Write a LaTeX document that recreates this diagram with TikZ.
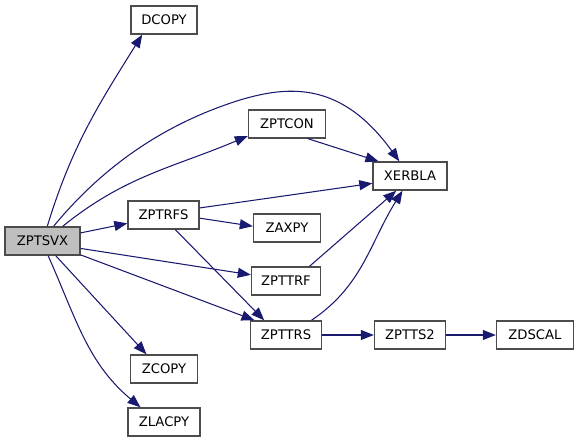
\documentclass[tikz,border=0pt]{standalone}
\usepackage{fontspec}
\setmainfont{DejaVu Sans}
\usetikzlibrary{arrows.meta,positioning}
\definecolor{callblue}{RGB}{25,25,112}
\definecolor{rootgray}{RGB}{191,191,191}
\tikzset{
  >={Triangle[length=2.6mm,width=2mm]},
  fn/.style={draw=black!70,fill=#1,line width=0.8pt,minimum height=5.6mm,
    inner sep=0pt,font=\fontsize{7.5}{9}\selectfont},
  fn/.default=white,
  call/.style={->,draw=callblue,fill=none,line width=0.6pt},
}

\begin{document}
\begin{tikzpicture}[x=0.02cm,y=-0.02cm]
    \useasboundingbox (0,0) rectangle (579,443);
    \node[fn=rootgray,minimum width=15mm] (zptsvx) at (42.5,241) {ZPTSVX};
    \node[fn,minimum width=13.2mm] (dcopy) at (164,20) {DCOPY};
    \node[fn,minimum width=15.4mm] (zptcon) at (287,124) {ZPTCON};
    \node[fn,minimum width=14.8mm] (xerbla) at (410,176) {XERBLA};
    \node[fn,minimum width=14.2mm] (zptrfs) at (163.5,215) {ZPTRFS};
    \node[fn,minimum width=13.4mm] (zaxpy) at (287,228) {ZAXPY};
    \node[fn,minimum width=13.8mm] (zpttrf) at (286,281) {ZPTTRF};
    \node[fn,minimum width=14.2mm] (zpttrs) at (286,335) {ZPTTRS};
    \node[fn,minimum width=14.2mm] (zptts2) at (410,335) {ZPTTS2};
    \node[fn,minimum width=15.4mm] (zdscal) at (535,335) {ZDSCAL};
    \node[fn,minimum width=13.4mm] (zcopy) at (164,369) {ZCOPY};
    \node[fn,minimum width=14.4mm] (zlacpy) at (164,422) {ZLACPY};
    % calls from the driver
    \draw[call] (zptsvx.72) to[out=73,in=-122] (dcopy.-146);
    \draw[call] (zptsvx.53) .. controls (100,170) and (160,125) .. (240,100)
      .. controls (290,85) and (342,82) .. (xerbla.126);
    \draw[call] (zptsvx.36) to[out=39,in=-157] (zptcon.-163);
    \draw[call] (zptsvx.12) -- (zptrfs.-167);
    \draw[call] (zptsvx.-11) -- (zpttrf.170);
    \draw[call] (zptsvx.-20) -- (zpttrs.155);
    \draw[call] (zptsvx.-48) -- (zcopy.140);
    \draw[call] (zptsvx.-69) to[out=-66,in=140] (zlacpy.148);
    % the rest of the tree
    \draw[call] (zptcon.-35) -- (xerbla.155);
    \draw[call] (zptrfs.11) -- (xerbla.-169);
    \draw[call] (zptrfs.-5) -- (zaxpy.177);
    \draw[call] (zptrfs.-51) -- (zpttrs.146);
    \draw[call] (zpttrf.32) -- (xerbla.-133);
    \draw[call] (zpttrs.30) to[out=34,in=-122] (xerbla.-117);
    \draw[call] (zpttrs) -- (zptts2);
    \draw[call] (zptts2) -- (zdscal);
\end{tikzpicture}
\end{document}
